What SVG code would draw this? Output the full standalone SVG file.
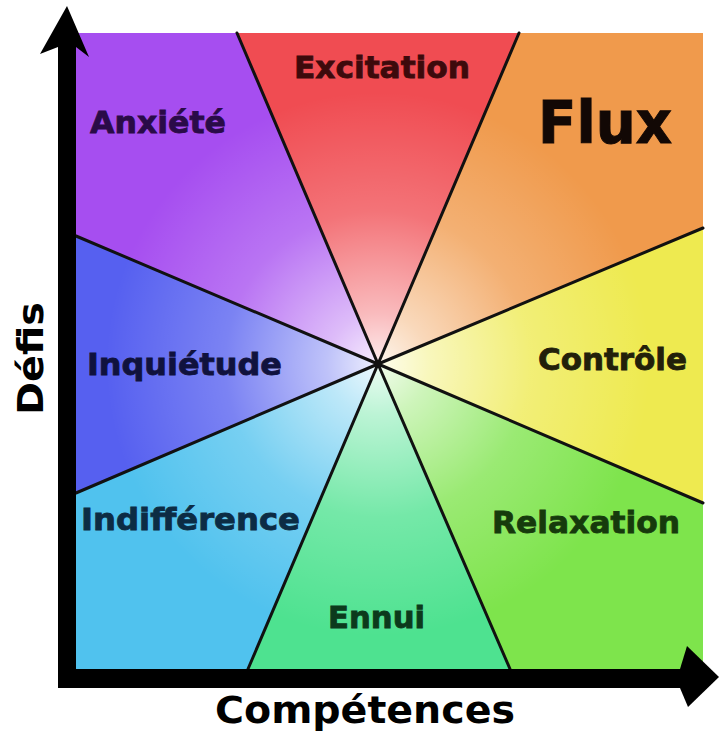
<svg xmlns="http://www.w3.org/2000/svg" width="719" height="733" viewBox="0 0 719 733">
<defs>
<radialGradient id="glow" gradientUnits="userSpaceOnUse" cx="378" cy="364" r="340">
<stop offset="0" stop-color="#fff" stop-opacity="0.9"/>
<stop offset="0.15" stop-color="#fff" stop-opacity="0.62"/>
<stop offset="0.45" stop-color="#fff" stop-opacity="0.22"/>
<stop offset="0.8" stop-color="#fff" stop-opacity="0"/>
</radialGradient>
<style>
.lbl{font-family:"DejaVu Sans",Verdana,sans-serif;font-weight:bold;font-size:30px;stroke-width:0.8}
.big{font-family:"DejaVu Sans",Verdana,sans-serif;font-weight:bold}
.sec{stroke:none}
.div{stroke:#111;stroke-width:3;fill:none;stroke-linecap:round}
</style>
</defs>
<rect width="719" height="733" fill="#fff"/>
<g id="sectors">
<polygon id="s-anxiete" class="sec" points="378,364 76,236 76,33 237,33" fill="#a64ef0"/>
<polygon id="s-excitation" class="sec" points="378,364 237,33 519,33" fill="#f04c52"/>
<polygon id="s-flux" class="sec" points="378,364 519,33 703,33 703,228" fill="#f09a4c"/>
<polygon id="s-controle" class="sec" points="378,364 703,228 703,503" fill="#eeea50"/>
<polygon id="s-relaxation" class="sec" points="378,364 703,503 703,669 510,669" fill="#7ee44c"/>
<polygon id="s-ennui" class="sec" points="378,364 510,669 248,669" fill="#4ee290"/>
<polygon id="s-indifference" class="sec" points="378,364 248,669 76,669 76,493" fill="#50c2ee"/>
<polygon id="s-inquietude" class="sec" points="378,364 76,493 76,236" fill="#5660f0"/>
<rect x="76" y="33" width="627" height="636" fill="url(#glow)"/>
</g>
<g id="connectors">
<line class="div" x1="378" y1="364" x2="237" y2="33"/>
<line class="div" x1="378" y1="364" x2="519" y2="33"/>
<line class="div" x1="378" y1="364" x2="703" y2="228"/>
<line class="div" x1="378" y1="364" x2="703" y2="503"/>
<line class="div" x1="378" y1="364" x2="510" y2="669"/>
<line class="div" x1="378" y1="364" x2="248" y2="669"/>
<line class="div" x1="378" y1="364" x2="76" y2="493"/>
<line class="div" x1="378" y1="364" x2="76" y2="236"/>
<circle cx="378" cy="364" r="4" fill="#111"/>
</g>
<g id="anxiete"><text class="lbl" x="90" y="133" fill="#2a0b48" stroke="#2a0b48" textLength="136" lengthAdjust="spacingAndGlyphs">Anxiété</text></g>
<g id="excitation"><text class="lbl" x="294" y="78" fill="#3d0a0c" stroke="#3d0a0c" textLength="176" lengthAdjust="spacingAndGlyphs">Excitation</text></g>
<g id="flux"><text class="big" x="538" y="143" font-size="58" fill="#120805" stroke="#120805" stroke-width="1" textLength="134" lengthAdjust="spacingAndGlyphs">Flux</text></g>
<g id="controle"><text class="lbl" x="538" y="370" fill="#22200a" stroke="#22200a" textLength="149" lengthAdjust="spacingAndGlyphs">Contrôle</text></g>
<g id="relaxation"><text class="lbl" x="492" y="533" fill="#163a0c" stroke="#163a0c" textLength="188" lengthAdjust="spacingAndGlyphs">Relaxation</text></g>
<g id="ennui"><text class="lbl" x="328" y="628" fill="#0c3a1c" stroke="#0c3a1c" textLength="97" lengthAdjust="spacingAndGlyphs">Ennui</text></g>
<g id="indifference"><text class="lbl" x="81" y="530" fill="#0c2c44" stroke="#0c2c44" textLength="219" lengthAdjust="spacingAndGlyphs">Indifférence</text></g>
<g id="inquietude"><text class="lbl" x="87" y="375" fill="#10123e" stroke="#10123e" textLength="195" lengthAdjust="spacingAndGlyphs">Inquiétude</text></g>
<g id="axes" fill="#000">
<rect x="58" y="44" width="18" height="644"/>
<polygon points="67,6 89,57 76,47 58,47 40,54"/>
<rect x="58" y="669" width="626" height="19"/>
<polygon points="719,677 688,707 680,688 680,669 687,646"/>
</g>
<text class="big" x="215" y="723" font-size="38" fill="#000" textLength="300" lengthAdjust="spacingAndGlyphs">Compétences</text>
<text class="big" transform="translate(43,415) rotate(-90)" font-size="36" fill="#000" textLength="113" lengthAdjust="spacingAndGlyphs">Défis</text>
</svg>
